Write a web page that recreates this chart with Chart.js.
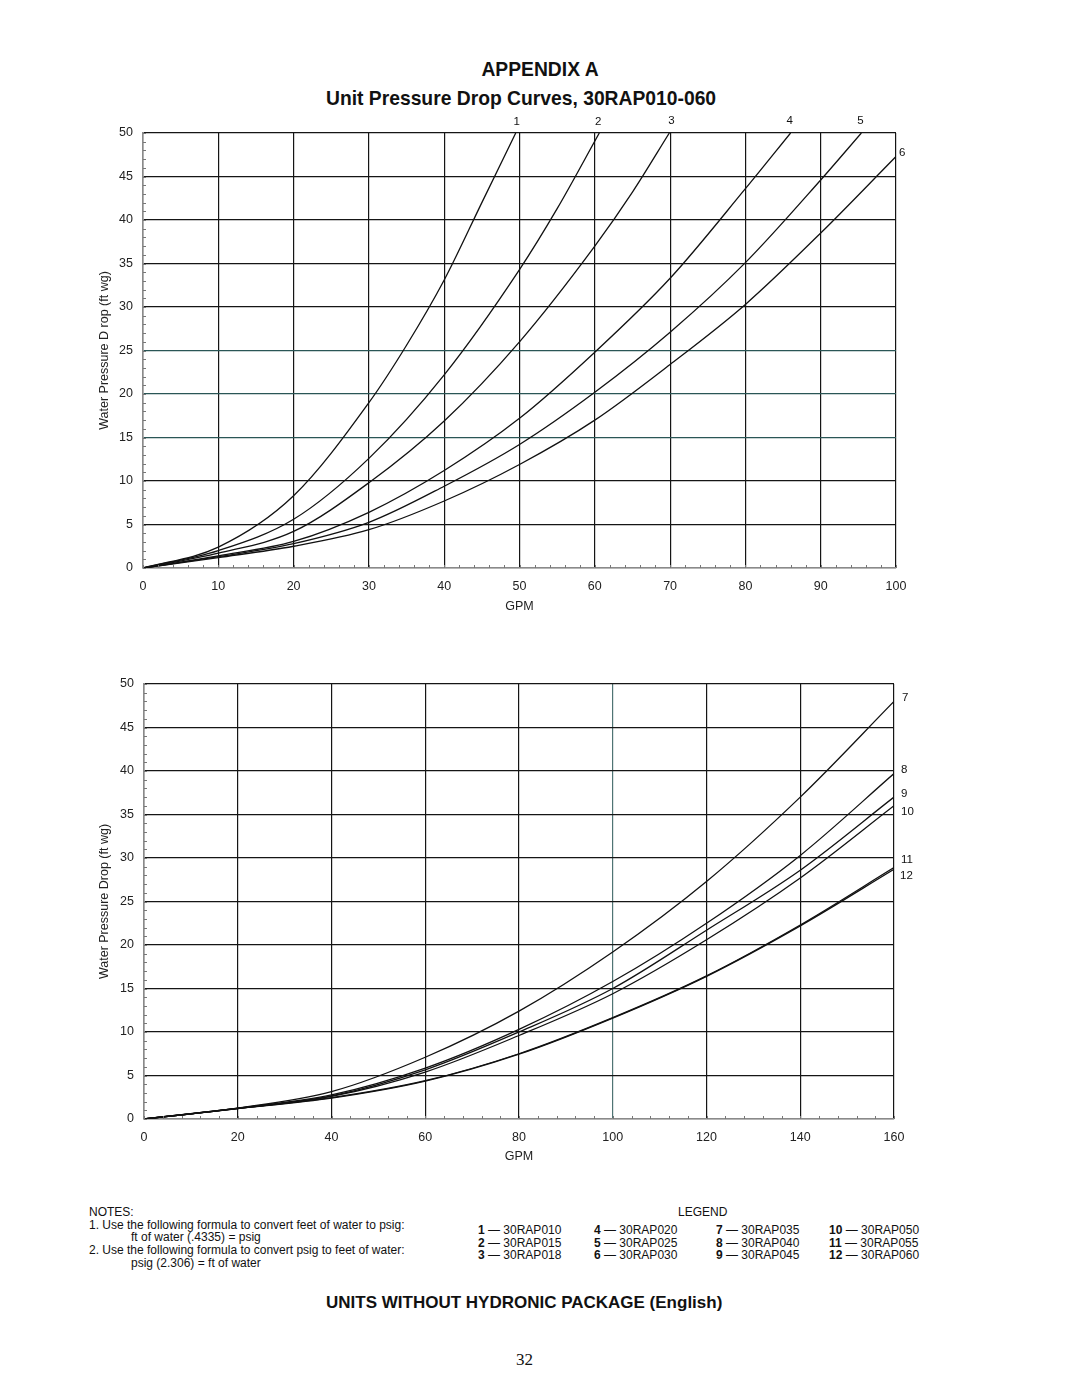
<!DOCTYPE html>
<html>
<head>
<meta charset="utf-8">
<title>Unit Pressure Drop Curves, 30RAP010-060</title>
<script src="https://cdn.jsdelivr.net/npm/chart.js@4.4.1/dist/chart.umd.min.js"></script>
<style>
    body { margin: 0; background: #fff; font-family: 'Liberation Sans', Arial, sans-serif; color: #111; }
    #page { position: relative; width: 1080px; height: 1397px; overflow: hidden; }
    .t { position: absolute; white-space: pre; }
    .ind { padding-left: 42px; }
    canvas { position: absolute; }
</style>
</head>
<body>
<div id="page">
    <div class="t" style="left:0;width:1080px;text-align:center;top:59px;font-size:19.3px;line-height:22px;font-weight:bold">APPENDIX A</div>
    <div class="t" style="left:326px;top:88px;font-size:19.3px;line-height:22px;font-weight:bold">Unit Pressure Drop Curves, 30RAP010-060</div>

    <canvas id="topChart" width="880" height="520" style="left:60px;top:110px"></canvas>
    <canvas id="bottomChart" width="880" height="520" style="left:60px;top:660px"></canvas>

    <div class="t" style="left:89px;top:1206px;font-size:12px;line-height:12.7px">NOTES:
1. Use the following formula to convert feet of water to psig:
<span class="ind">ft of water (.4335) = psig</span>
2. Use the following formula to convert psig to feet of water:
<span class="ind">psig (2.306) = ft of water</span></div>
    <div class="t" style="left:678px;top:1206px;font-size:12px;line-height:12.7px">LEGEND</div>
    <div id="legend"></div>

    <div class="t" style="left:326px;top:1292px;font-size:17px;line-height:22px;font-weight:bold">UNITS WITHOUT HYDRONIC PACKAGE (English)</div>
    <div class="t" style="left:516px;top:1349px;font-size:17px;line-height:22px;font-family:'Liberation Serif','Times New Roman',serif">32</div>
</div>

<script>
// Curve tags and models
const tagsTop = ['1', '2', '3', '4', '5', '6'];
const tagsBottom = ['7', '8', '9', '10', '11', '12'];
const models = ['30RAP010', '30RAP015', '30RAP018', '30RAP020', '30RAP025', '30RAP030',
    '30RAP035', '30RAP040', '30RAP045', '30RAP050', '30RAP055', '30RAP060'];

// Upper chart (GPM vs ft wg), curves stop where they leave the top of the grid
const gpm1 = [0, 10, 20, 30, 35, 40, 45, 49.5];
const drop1 = [0, 2.4, 8.3, 19.0, 25.6, 33.1, 42.0, 50];
const gpm2 = [0, 10, 20, 30, 40, 50, 55, 60.6];
const drop2 = [0, 2.0, 5.6, 12.6, 22.2, 34.3, 41.3, 50];
const gpm3 = [0, 10, 20, 30, 40, 50, 60, 65, 69.9];
const drop3 = [0, 1.7, 4.2, 9.8, 16.9, 26.0, 37.0, 43.2, 50];
const gpm4 = [0, 10, 20, 30, 40, 50, 60, 70, 80, 86];
const drop4 = [0, 1.4, 3.05, 6.4, 11.2, 17.2, 24.8, 33.3, 43.6, 50];
const gpm5 = [0, 10, 20, 30, 40, 50, 60, 70, 80, 90, 95.4];
const drop5 = [0, 1.3, 2.8, 5.25, 9.4, 14.2, 20.2, 27.1, 35.1, 44.6, 50];
const gpm6 = [0, 10, 20, 30, 40, 50, 60, 70, 80, 90, 100];
const drop6 = [0, 1.2, 2.5, 4.4, 7.7, 11.9, 17.0, 23.4, 30.3, 38.5, 47.3];

// Lower chart
const gpmBottom = [0, 20, 40, 60, 80, 100, 120, 140, 160];
const drop7 = [0, 1.25, 3.15, 7.1, 12.4, 19.2, 27.3, 37.0, 48.0];
const drop8 = [0, 1.25, 2.77, 5.85, 10.3, 15.8, 22.5, 30.3, 39.7];
const drop9 = [0, 1.23, 2.65, 5.65, 10.0, 15.0, 21.7, 28.6, 37.0];
const drop10 = [0, 1.22, 2.6, 5.4, 9.6, 14.4, 20.6, 27.7, 36.0];
const drop11 = [0, 1.2, 2.45, 4.4, 7.5, 11.65, 16.45, 22.3, 28.9];
const drop12 = [0, 1.2, 2.4, 4.35, 7.45, 11.6, 16.4, 22.2, 28.7];

Chart.defaults.font.family = "'Liberation Sans', Arial, sans-serif";
Chart.defaults.color = '#222';

function toPoints(xs, ys) {
    return xs.map((x, i) => ({ x: x, y: ys[i] }));
}

function curve(tag, xs, ys) {
    return {
        label: tag,
        data: toPoints(xs, ys),
        borderColor: '#111',
        borderWidth: 1.3,
        pointRadius: 0,
        fill: false,
        cubicInterpolationMode: 'monotone',
    };
}

// minor ticks + curve numbers
const extras = {
    id: 'extras',
    afterDraw(chart, args, opts) {
        const { ctx, chartArea: a } = chart;
        const x = chart.scales.x;
        const y = chart.scales.y;
        ctx.save();
        ctx.strokeStyle = '#777';
        ctx.lineWidth = 1;
        for (let v = x.min; v <= x.max; v += opts.xMinor) {
            const px = Math.round(x.getPixelForValue(v)) + 0.5;
            ctx.beginPath();
            ctx.moveTo(px, a.bottom);
            ctx.lineTo(px, a.bottom - 3);
            ctx.stroke();
        }
        for (let v = y.min; v <= y.max; v += 1) {
            const py = Math.round(y.getPixelForValue(v)) + 0.5;
            ctx.beginPath();
            ctx.moveTo(a.left, py);
            ctx.lineTo(a.left + 3, py);
            ctx.stroke();
        }

        ctx.fillStyle = '#111';
        ctx.font = "11.5px 'Liberation Sans', Arial, sans-serif";
        ctx.textBaseline = 'middle';
        chart.data.datasets.forEach((ds, i) => {
            const last = ds.data[ds.data.length - 1];
            const off = opts.tagOffsets[i];
            ctx.textAlign = off[2];
            ctx.fillText(ds.label, x.getPixelForValue(last.x) + off[0], y.getPixelForValue(last.y) + off[1]);
        });
        ctx.restore();
    },
};

function makeOptions(xMax, xStep, yTitle, padLeftAxis, pad, gridColorX, gridColorY, minor, tagOffsets, gpmPad) {
    return {
        responsive: false,
        animation: false,
        layout: { padding: pad },
        plugins: {
            legend: { display: false },
            tooltip: { enabled: false },
            extras: { xMinor: minor, tagOffsets: tagOffsets },
        },
        scales: {
            x: {
                type: 'linear',
                min: 0,
                max: xMax,
                afterFit(scale) { scale.height = 50; },
                ticks: { stepSize: xStep, autoSkip: false, padding: 11, font: { size: 12.5 }, color: '#222' },
                grid: { drawTicks: false, lineWidth: 1.2, color: gridColorX },
                border: { display: true, color: '#8a8a8a', width: 1.6 },
                title: { display: true, text: 'GPM', font: { size: 12.5 }, color: '#222', padding: { top: 0, bottom: gpmPad } },
            },
            y: {
                min: 0,
                max: 50,
                afterFit(scale) { scale.width = padLeftAxis; },
                ticks: { stepSize: 5, autoSkip: false, padding: 10, font: { size: 12.5 }, color: '#222' },
                grid: { drawTicks: false, lineWidth: 1.2, color: gridColorY },
                border: { display: true, color: '#8a8a8a', width: 1.6 },
                title: { display: true, text: yTitle, font: { size: 12.5 }, color: '#222', padding: { top: 37.5, bottom: 0 } },
            },
        },
    };
}

const topChart = new Chart(document.getElementById('topChart'), {
    type: 'line',
    data: {
        datasets: [
            curve(tagsTop[0], gpm1, drop1),
            curve(tagsTop[1], gpm2, drop2),
            curve(tagsTop[2], gpm3, drop3),
            curve(tagsTop[3], gpm4, drop4),
            curve(tagsTop[4], gpm5, drop5),
            curve(tagsTop[5], gpm6, drop6),
        ],
    },
    options: makeOptions(100, 10, 'Water Pressure D rop (ft wg)', 83,
        { left: 0, right: 44, top: 23, bottom: 12 },
        (c) => (c.tick && c.tick.value === 0 ? '#8a8a8a' : '#151515'),
        (c) => {
            if (!c.tick) return '#151515';
            if (c.tick.value === 0) return '#8a8a8a';
            if (c.tick.value >= 15 && c.tick.value <= 25) return '#2a5656';
            return '#151515';
        },
        2,
        [[1, -11, 'center'], [-1, -11, 'center'], [2, -12, 'center'], [-1, -12, 'center'], [-1, -12, 'center'], [3, -4, 'left']],
        3.5),
    plugins: [extras],
});

const bottomChart = new Chart(document.getElementById('bottomChart'), {
    type: 'line',
    data: {
        datasets: [
            curve(tagsBottom[0], gpmBottom, drop7),
            curve(tagsBottom[1], gpmBottom, drop8),
            curve(tagsBottom[2], gpmBottom, drop9),
            curve(tagsBottom[3], gpmBottom, drop10),
            curve(tagsBottom[4], gpmBottom, drop11),
            curve(tagsBottom[5], gpmBottom, drop12),
        ],
    },
    options: makeOptions(160, 20, 'Water Pressure Drop (ft wg)', 84,
        { left: 0, right: 46, top: 24, bottom: 11 },
        (c) => {
            if (!c.tick) return '#151515';
            if (c.tick.value === 0) return '#8a8a8a';
            if (c.tick.value === 100) return '#4f7474';
            return '#151515';
        },
        (c) => (c.tick && c.tick.value === 0 ? '#8a8a8a' : '#151515'),
        4,
        [[8, -4, 'left'], [7, -4, 'left'], [7, -3, 'left'], [7, 6, 'left'], [7, -8, 'left'], [6, 7, 'left']],
        4.5),
    plugins: [extras],
});

// Legend block under the charts
const legendCols = [478, 594, 716, 829];
const legendRows = [1224, 1236.6, 1249.2];
const legendBox = document.getElementById('legend');
models.forEach((m, i) => {
    const div = document.createElement('div');
    div.className = 't';
    div.style.left = legendCols[Math.floor(i / 3)] + 'px';
    div.style.top = legendRows[i % 3] + 'px';
    div.style.fontSize = '12px';
    div.style.lineHeight = '12.7px';
    div.innerHTML = '<b>' + (i + 1) + '</b> \u2014 ' + m;
    legendBox.appendChild(div);
});
</script>
</body>
</html>
